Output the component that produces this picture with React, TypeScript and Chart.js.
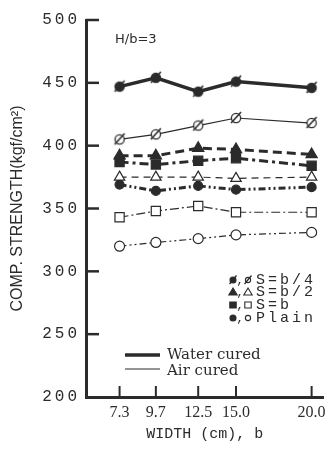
import React, { useEffect, useRef } from 'react';
import { Chart, registerables } from 'chart.js';

Chart.register(...registerables);

// ---- data ----
const widths = [7.3, 9.7, 12.5, 15.0, 20.0];
const widthTickLabels = ['7.3', '9.7', '12.5', '15.0', '20.0'];
const strengthMin = 200;
const strengthMax = 500;
const strengthStep = 50;

const waterSb4 = [447, 454, 443, 451, 446];
const airSb4 = [405, 409, 416, 422, 418];
const waterSb2 = [392, 392, 398, 397, 393];
const waterSb = [387, 385, 388, 390, 384];
const airSb2 = [375, 375, 375, 374, 375];
const waterPlain = [369, 364, 368, 365, 367];
const airSb = [343, 348, 352, 347, 347];
const airPlain = [320, 323, 326, 329, 331];

const seriesLabels = ['S=b/4', 'S=b/2', 'S=b', 'Plain'];
const curingLabels = ['Water cured', 'Air cured'];
const panelNote = 'H/b=3';
const yTitle = 'COMP. STRENGTH(kgf/cm\u00B2)';
const xTitle = 'WIDTH (cm), b';

const INK = '#2b2b2b';

function slashedCircle(filled: boolean): HTMLCanvasElement {
  const c = document.createElement('canvas');
  c.width = 16;
  c.height = 16;
  const g = c.getContext('2d')!;
  g.strokeStyle = INK;
  g.lineWidth = 1.3;
  g.beginPath();
  g.arc(8, 8, 4.6, 0, Math.PI * 2);
  g.fillStyle = filled ? INK : '#ffffff';
  g.fill();
  g.stroke();
  g.beginPath();
  g.lineWidth = 1.6;
  g.moveTo(3, 13);
  g.lineTo(13, 2);
  g.stroke();
  return c;
}

const pts = (vals: number[]) => widths.map((w, i) => ({ x: w, y: vals[i] }));

const THICK = 3;
const THIN = 1.2;

function drawMarker(ctx: CanvasRenderingContext2D, kind: string, filled: boolean, x: number, y: number) {
  ctx.save();
  ctx.strokeStyle = INK;
  ctx.fillStyle = filled ? INK : '#ffffff';
  ctx.lineWidth = 1.1;
  ctx.beginPath();
  if (kind === 'circle') {
    ctx.arc(x, y, filled ? 3 : 2.6, 0, Math.PI * 2);
  } else if (kind === 'triangle') {
    ctx.moveTo(x, y - 4);
    ctx.lineTo(x + 4.2, y + 3);
    ctx.lineTo(x - 4.2, y + 3);
    ctx.closePath();
  } else if (kind === 'rect') {
    ctx.rect(x - 3.2, y - 3, 6.4, 6);
  } else if (kind === 'slash') {
    ctx.arc(x, y, filled ? 3 : 2.6, 0, Math.PI * 2);
  }
  ctx.fill();
  ctx.stroke();
  if (kind === 'slash') {
    ctx.beginPath();
    ctx.lineWidth = 1.3;
    ctx.moveTo(x - 3.5, y + 4);
    ctx.lineTo(x + 3.5, y - 4.5);
    ctx.stroke();
  }
  ctx.restore();
}

const decor = {
  id: 'decor',
  afterDatasetsDraw(chart: any) {
    (chart.ctx as any).letterSpacing = '3px';
  },
  afterDraw(chart: any) {
    const ctx: CanvasRenderingContext2D = chart.ctx;
    (ctx as any).letterSpacing = '0px';
    ctx.save();
    const xs = chart.scales.x;
    const ys = chart.scales.y;
    const { left, bottom } = chart.chartArea;
    ctx.strokeStyle = INK;
    ctx.lineCap = 'butt';
    // inward ticks
    ctx.lineWidth = 2.5;
    ys.ticks.forEach((t: any) => {
      if (t.value === ys.min) return;
      const py = ys.getPixelForValue(t.value);
      ctx.beginPath();
      ctx.moveTo(left, py);
      ctx.lineTo(left + 13, py);
      ctx.stroke();
    });
    ctx.lineWidth = 2;
    xs.ticks.forEach((t: any) => {
      const px = xs.getPixelForValue(t.value);
      ctx.beginPath();
      ctx.moveTo(px, bottom);
      ctx.lineTo(px, bottom - 11);
      ctx.stroke();
    });

    // panel note
    ctx.fillStyle = INK;
    ctx.font = '13px "DejaVu Sans"';
    ctx.textAlign = 'left';
    ctx.textBaseline = 'middle';
    ctx.fillText(panelNote, 115, 40);

    // series symbol legend
    const kinds = ['slash', 'triangle', 'rect', 'circle'];
    const rows = [280, 292, 305, 318];
    kinds.forEach((k, i) => {
      const y = rows[i];
      drawMarker(ctx, k, true, 233, y);
      ctx.fillStyle = INK;
      ctx.font = '12px "Liberation Mono"';
      ctx.textAlign = 'center';
      ctx.fillText(',', 240, y + 1);
      drawMarker(ctx, k, false, 248, y);
      ctx.save();
      (ctx as any).letterSpacing = '3px';
      ctx.fillStyle = INK;
      ctx.font = '15px "Liberation Mono"';
      ctx.textAlign = 'left';
      ctx.fillText(seriesLabels[i], 256, y);
      ctx.restore();
    });

    // curing legend
    ctx.strokeStyle = INK;
    ctx.lineWidth = 3.5;
    ctx.beginPath();
    ctx.moveTo(125, 355);
    ctx.lineTo(160, 355);
    ctx.stroke();
    ctx.lineWidth = 1.2;
    ctx.beginPath();
    ctx.moveTo(125, 369);
    ctx.lineTo(160, 369);
    ctx.stroke();
    ctx.fillStyle = INK;
    ctx.font = '15px "DejaVu Serif"';
    ctx.textAlign = 'left';
    ctx.textBaseline = 'middle';
    ctx.fillText(curingLabels[0], 167, 355);
    ctx.fillText(curingLabels[1], 167, 371);
    ctx.restore();
  },
};

export default function App() {
  const ref = useRef<HTMLCanvasElement>(null);
  useEffect(() => {
    const b4Filled = slashedCircle(true);
    const b4Open = slashedCircle(false);
    const common = { borderColor: INK, showLine: true, pointBorderColor: INK, pointBorderWidth: 1.2 };
    const chart = new Chart(ref.current!, {
      type: 'line',
      data: {
        datasets: [
          { ...common, label: 'S=b/4 water', data: pts(waterSb4), borderWidth: 3.5, pointStyle: b4Filled as any, pointRadius: 6, pointBackgroundColor: INK },
          { ...common, label: 'S=b/4 air', data: pts(airSb4), borderWidth: THIN, pointStyle: b4Open as any, pointRadius: 6, pointBackgroundColor: '#fff' },
          { ...common, label: 'S=b/2 water', data: pts(waterSb2), borderWidth: THICK, borderDash: [9, 5], pointStyle: 'triangle', pointRadius: 6.5, pointBackgroundColor: INK },
          { ...common, label: 'S=b water', data: pts(waterSb), borderWidth: THICK, borderDash: [9, 4, 3, 4], pointStyle: 'rect', pointRadius: 6.5, pointBackgroundColor: INK },
          { ...common, label: 'S=b/2 air', data: pts(airSb2), borderWidth: THIN, borderDash: [7, 5], pointStyle: 'triangle', pointRadius: 6, pointBackgroundColor: '#fff' },
          { ...common, label: 'Plain water', data: pts(waterPlain), borderWidth: THICK, borderDash: [7, 3, 2, 3, 2, 3], pointStyle: 'circle', pointRadius: 4.5, pointBackgroundColor: INK },
          { ...common, label: 'S=b air', data: pts(airSb), borderWidth: THIN, borderDash: [9, 3, 2, 3], pointStyle: 'rect', pointRadius: 6.5, pointBackgroundColor: '#fff' },
          { ...common, label: 'Plain air', data: pts(airPlain), borderWidth: THIN, borderDash: [7, 3, 2, 3, 2, 3], pointStyle: 'circle', pointRadius: 5, pointBackgroundColor: '#fff' },
        ],
      },
      options: {
        responsive: false,
        animation: false,
        layout: { padding: { top: 20, right: 5, left: 0, bottom: 0 } },
        plugins: { legend: { display: false }, tooltip: { enabled: false } },
        scales: {
          x: {
            type: 'linear',
            min: 5.08,
            max: 20.78,
            afterBuildTicks: (s: any) => {
              s.ticks = widths.map((v) => ({ value: v }));
            },
            afterFit: (s: any) => {
              s.height = 56;
            },
            grid: { display: false, drawTicks: false },
            border: { display: true, width: 3, color: INK },
            ticks: {
              autoSkip: false,
              maxRotation: 0,
              padding: 6,
              color: INK,
              font: { family: 'Liberation Serif', size: 16 },
              callback: (v: any) => {
                const i = widths.indexOf(Number(v));
                return i >= 0 ? widthTickLabels[i] : '';
              },
            },
            title: {
              display: true,
              text: xTitle,
              color: INK,
              font: { family: 'Liberation Mono', size: 15 },
              padding: { top: 0, bottom: 10 },
            },
          },
          y: {
            type: 'linear',
            min: strengthMin,
            max: strengthMax,
            afterFit: (s: any) => {
              s.width = 86;
            },
            grid: { display: false, drawTicks: false },
            border: { display: true, width: 3, color: INK },
            ticks: {
              stepSize: strengthStep,
              padding: 6,
              color: INK,
              z: 1,
              font: { family: 'Liberation Mono', size: 16 },
            },
            title: {
              display: true,
              text: yTitle,
              color: INK,
              font: { family: 'Liberation Sans', size: 16 },
              padding: { top: 8, bottom: 0 },
            },
          },
        },
      },
      plugins: [decor],
    } as any);
    return () => chart.destroy();
  }, []);
  return (
    <div style={{ position: 'absolute', left: 0, top: 0, width: 332, height: 453, background: '#ffffff' }}>
      <canvas ref={ref} width={332} height={453} style={{ display: 'block' }} />
    </div>
  );
}
